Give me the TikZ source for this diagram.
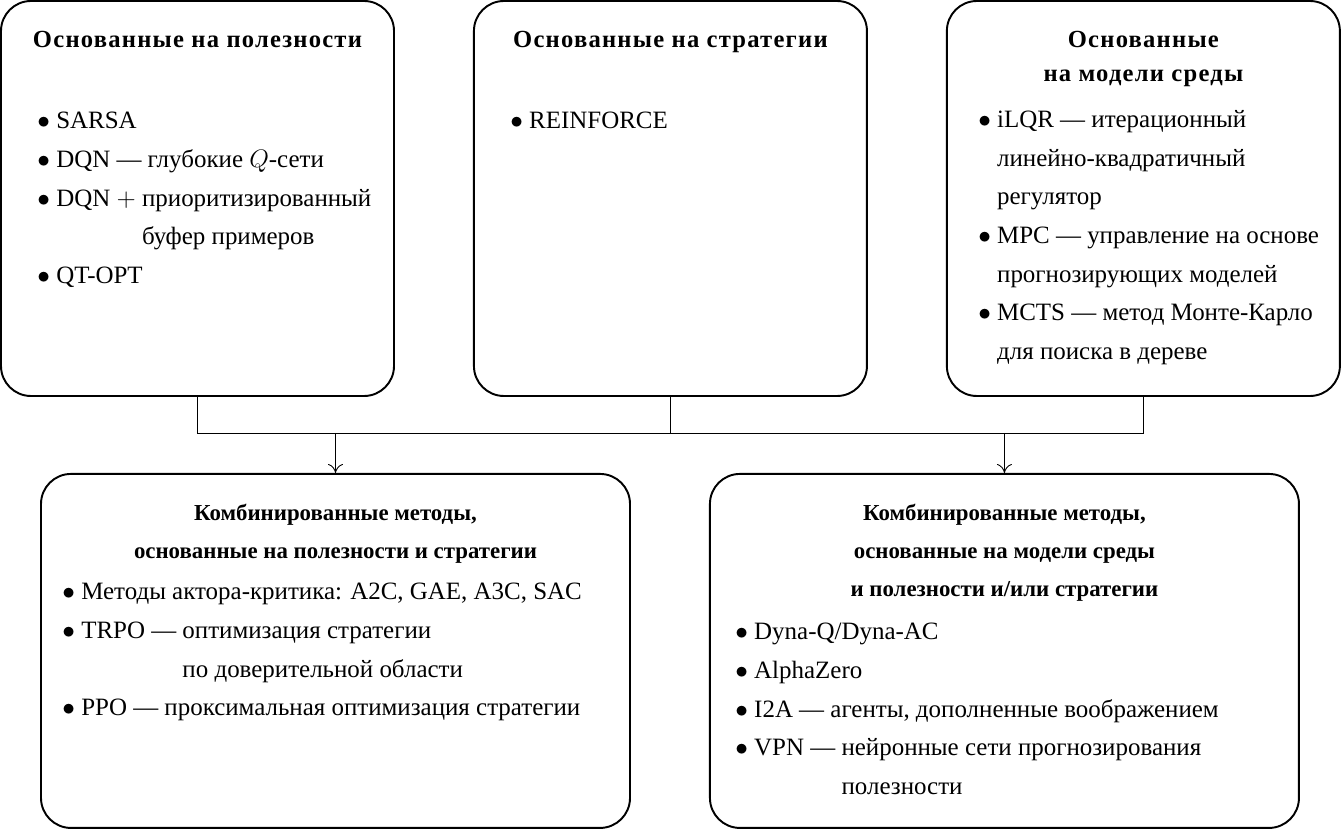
\documentclass[tikz,border=0pt]{standalone}
\usepackage{fontspec}
\setmainfont{Liberation Serif}
\usetikzlibrary{arrows.meta,positioning,calc}

\begin{document}
\begin{tikzpicture}[
    node distance=1.56cm,
    topbox/.style={rectangle, draw, line width=1.1pt, rounded corners=0.6cm, minimum width=7.86cm, minimum height=7.9cm},
    widebox/.style={rectangle, draw, line width=1.1pt, rounded corners=0.6cm, minimum width=11.78cm, minimum height=7.08cm},
    heading/.style={align=center, inner sep=0pt, font=\fontsize{13}{21.5}\selectfont\bfseries},
    topheading/.style={heading, font=\fontsize{14}{19.5}\selectfont\bfseries\addfontfeature{LetterSpace=5}},
    items/.style={align=left, inner sep=0pt, font=\fontsize{14.2}{22}\selectfont},
    link/.style={line width=0.5pt},
    arrow/.style={-{To[length=1.8mm,width=3mm]}, line width=0.5pt},
]
    \useasboundingbox (0,0) rectangle (26.82,-16.58);

    \node[topbox] (value) at (3.95,-3.97) {};

    \node[topbox, right=of value] (policy) {};

    \node[topbox, right=of policy] (model) {};

    \node[widebox, below right=1.52cm and 0.8cm of value.south west] (valpol) {};

    \node[widebox, right=of valpol] (modelmix) {};

    \node[topheading, below=0.62cm of value.north] (valuehead) {Основанные на полезности};
    \node[items, below right=2.24cm and 0.74cm of value.north west] (valueitems) {$\bullet$ SARSA\\
        $\bullet$ DQN --- глубокие $Q$-сети\\
        $\bullet$ DQN $+$ приоритизированный\\
        \phantom{$\bullet$ DQN $+$ }буфер примеров\\
        $\bullet$ QT-OPT};

    \node[topheading, below=0.62cm of policy.north] (policyhead) {Основанные на стратегии};
    \node[items, below right=2.24cm and 0.74cm of policy.north west] (policyitems) {$\bullet$ REINFORCE};

    \node[topheading, below=0.62cm of model.north] (modelhead) {Основанные\\на модели среды};
    \node[items, below right=2.2cm and 0.64cm of model.north west] (modelitems) {$\bullet$ iLQR --- итерационный\\
        \phantom{$\bullet$ }линейно-квадратичный\\
        \phantom{$\bullet$ }регулятор\\
        $\bullet$ MPC --- управление на основе\\
        \phantom{$\bullet$ }прогнозирующих моделей\\
        $\bullet$ MCTS --- метод Монте-Карло\\
        \phantom{$\bullet$ }для поиска в дереве};

    \node[heading, below=0.62cm of valpol.north] (valpolhead) {Комбинированные методы,\\основанные на полезности и стратегии};
    \node[items, below right=2.2cm and 0.44cm of valpol.north west] (valpolitems) {$\bullet$ Методы актора-критика: A2C, GAE, A3C, SAC\\
        $\bullet$ TRPO --- оптимизация стратегии\\
        \phantom{$\bullet$ TRPO --- }по доверительной области\\
        $\bullet$ PPO --- проксимальная оптимизация стратегии};

    \node[heading, below=0.62cm of modelmix.north] (modelmixhead) {Комбинированные методы,\\основанные на модели среды\\и полезности и/или стратегии};
    \node[items, below right=3.0cm and 0.52cm of modelmix.north west] (modelmixitems) {$\bullet$ Dyna-Q/Dyna-AC\\
        $\bullet$ AlphaZero\\
        $\bullet$ I2A --- агенты, дополненные воображением\\
        $\bullet$ VPN --- нейронные сети прогнозирования\\
        \phantom{$\bullet$ VPN --- }полезности};

    \coordinate[below=0.72cm of policy] (bus);

    \draw[link] (value) |- (bus) -| (model);
    \draw[link] (policy) -- (bus);
    \draw[arrow] (bus -| valpol) -- (valpol);
    \draw[arrow] (bus -| modelmix) -- (modelmix);
\end{tikzpicture}
\end{document}
